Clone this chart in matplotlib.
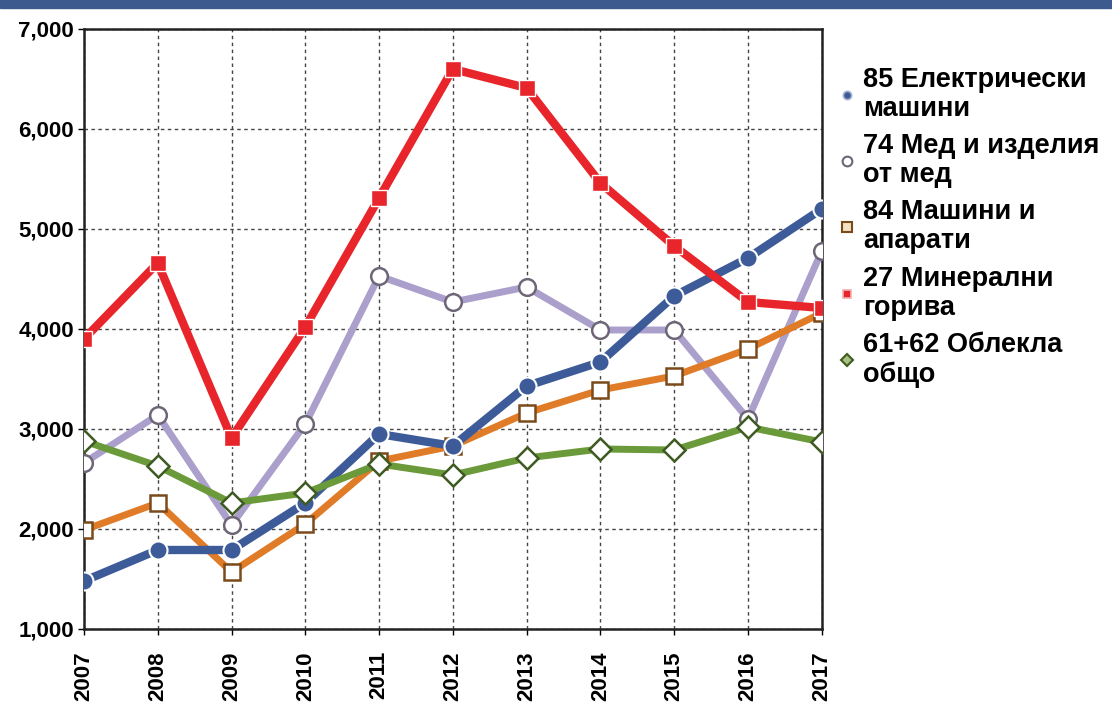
import matplotlib
matplotlib.use('Agg')
import matplotlib.pyplot as plt
from matplotlib.patches import Rectangle
from matplotlib.lines import Line2D
from matplotlib.ticker import FuncFormatter

plt.rcParams['font.family'] = ['Liberation Sans', 'DejaVu Sans']

years = [2007, 2008, 2009, 2010, 2011, 2012, 2013, 2014, 2015, 2016, 2017]
el_mash = [1480, 1790, 1790, 2260, 2950, 2830, 3430, 3670, 4330, 4710, 5200]
med = [2660, 3140, 2040, 3050, 4530, 4270, 4420, 3990, 3990, 3100, 4780]
mashini = [1990, 2260, 1570, 2050, 2680, 2830, 3160, 3390, 3530, 3800, 4160]
goriva = [3900, 4660, 2910, 4020, 5310, 6600, 6410, 5460, 4830, 4270, 4210]
obleka = [2880, 2630, 2260, 2360, 2650, 2540, 2710, 2800, 2790, 3020, 2870]

labels = ["85 Електрически\nмашини", "74 Мед и изделия\nот мед", "84 Машини и\nапарати",
          "27 Минерални\nгорива", "61+62 Облекла\nобщо"]

fig = plt.figure(figsize=(11.12, 7.02), dpi=100)
fig.patches.append(Rectangle((0, 0.988), 1, 0.012, transform=fig.transFigure,
                             color='#3d5a8e', zorder=0))
ax = fig.add_axes([0.0755, 0.104, 0.6635, 0.8547])

lw = 5
# draw order: purple, orange, blue, green, red
ax.plot(years, med, '-o', color='#ab9fcc', lw=lw, ms=12, mfc='white',
        mec='#6e6677', mew=1.8, zorder=3)
ax.plot(years, mashini, '-s', color='#e07b27', lw=lw, ms=11, mfc='white',
        mec='#7a4a1a', mew=1.8, zorder=4)
ax.plot(years, el_mash, '-o', color='#3d5a99', lw=lw + 1, ms=13, mfc='#3d5a99',
        mec='white', mew=1.5, zorder=5)
ax.plot(years, obleka, '-D', color='#6b9a3b', lw=lw, ms=11, mfc='white',
        mec='#3f5a22', mew=1.8, zorder=6)
ax.plot(years, goriva, '-s', color='#e8252a', lw=lw + 1, ms=11, mfc='#e8252a',
        mec='white', mew=1.0, zorder=7)

ax.set_xlim(2007, 2017)
ax.set_ylim(1000, 7000)
ax.set_xticks(years)
ax.set_xticklabels([str(y) for y in years], rotation=90, fontsize=16, fontweight='bold')
ax.set_yticks(range(1000, 7001, 1000))
ax.yaxis.set_major_formatter(FuncFormatter(lambda v, p: f"{int(v):,}"))
for t in ax.get_yticklabels():
    t.set_fontsize(16)
    t.set_fontweight('bold')
ax.tick_params(axis='y', length=4, width=1, pad=3)
ax.tick_params(axis='x', length=4, width=1, pad=12)
ax.grid(True, linestyle=(0, (2.5, 2.5)), color='#444444', lw=1)
for s in ax.spines.values():
    s.set_linewidth(1.8)
    s.set_color('#222222')

hs = [Line2D([], [], ls='none', marker='o', ms=6, mfc='#3d5a99', mec='#aab4d0', mew=1.2),
      Line2D([], [], ls='none', marker='o', ms=7, mfc='white', mec='#6e6677', mew=1.5),
      Line2D([], [], ls='none', marker='s', ms=7, mfc='#f4e3c0', mec='#7a4a1a', mew=1.5),
      Line2D([], [], ls='none', marker='s', ms=6, mfc='#e8252a', mec='#f0b0b0', mew=1.2),
      Line2D([], [], ls='none', marker='D', ms=6, mfc='#a8c080', mec='#3f5a22', mew=1.5)]
leg = ax.legend(hs, labels, loc='upper left', bbox_to_anchor=(0.99, 0.978),
                frameon=False, handlelength=0.6, handletextpad=0.3,
                labelspacing=0.42, prop={'size': 19.5, 'weight': 'bold'})
for t in leg.get_texts():
    t.set_linespacing(1.15)

fig.savefig('out.png', dpi=100)
